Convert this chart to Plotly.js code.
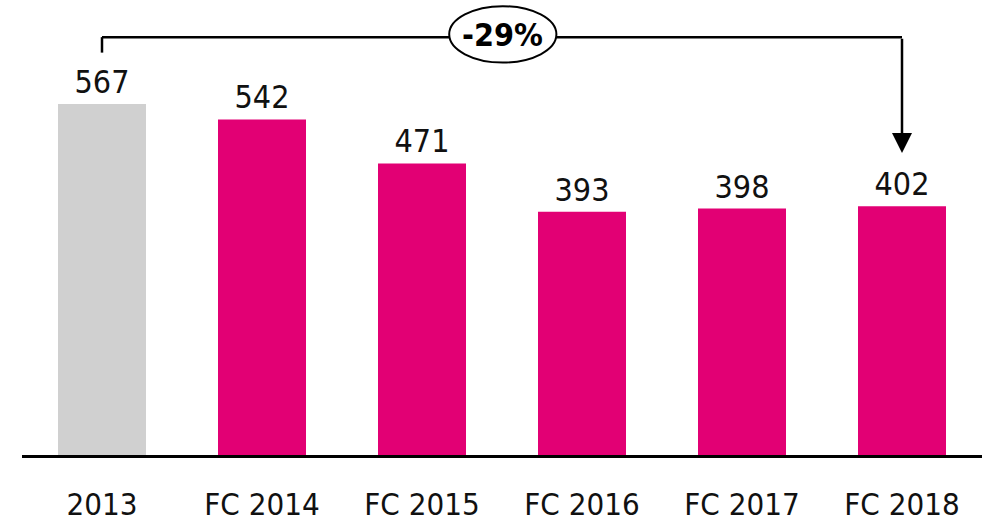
<!DOCTYPE html>
<html><head><meta charset="utf-8">
<script src="https://cdn.plot.ly/plotly-3.0.1.min.js"></script>
<style>html,body{margin:0;padding:0;background:#fff}#c{width:986px;height:528px}</style>
</head><body><div id="c"></div>
<script>
const categories = ["2013", "FC 2014", "FC 2015", "FC 2016", "FC 2017", "FC 2018"];
const values = [567, 542, 471, 393, 398, 402];
const barColors = ["#D0D0D0", "#E20074", "#E20074", "#E20074", "#E20074", "#E20074"];
const changeLabel = "-29%";

const F = "'DejaVu Sans Condensed', 'Liberation Sans Narrow', 'Liberation Sans', sans-serif";
const bracketY = 675;
const trace = {
  type: "bar", x: categories, y: values,
  marker: {color: barColors},
  text: values.map(String), textposition: "outside",
  textfont: {family: F, size: 32, color: "#111"},
  cliponaxis: false, hoverinfo: "none"
};
const layout = {
  width: 986, height: 528,
  margin: {l: 22, r: 4, t: 0, b: 73},
  paper_bgcolor: "#fff", plot_bgcolor: "#fff",
  bargap: 0.45, showlegend: false,
  xaxis: {type: "category", showline: true, linecolor: "#000", linewidth: 3,
    ticks: "outside", ticklen: 20, tickcolor: "rgba(0,0,0,0)",
    tickfont: {family: F, size: 31, color: "#111"}, showgrid: false, fixedrange: true},
  yaxis: {range: [0, 735], visible: false, showgrid: false, zeroline: false, fixedrange: true},
  shapes: [
    {type: "line", xref: "x", yref: "y", x0: 0, x1: 0, y0: 650, y1: bracketY, line: {color: "#000", width: 2.5}},
    {type: "line", xref: "x", yref: "y", x0: 0, x1: 5, y0: bracketY, y1: bracketY, line: {color: "#000", width: 2.5}},
    {type: "circle", xref: "x", yref: "y", x0: 2.17, x1: 2.84, y0: 634, y1: 725,
      fillcolor: "#fff", line: {color: "#000", width: 2}}
  ],
  annotations: [
    {x: 5, y: 488, xref: "x", yref: "y", ax: 5, ay: bracketY, axref: "x", ayref: "y",
      showarrow: true, arrowhead: 2, arrowsize: 1.6, arrowwidth: 2.5, arrowcolor: "#000", text: ""},
    {x: 2.505, y: 679, xref: "x", yref: "y", text: "<b>" + changeLabel + "</b>", showarrow: false,
      font: {family: F, size: 32, color: "#000"}}
  ]
};
Plotly.newPlot("c", [trace], layout, {displayModeBar: false, staticPlot: true});
</script></body></html>
